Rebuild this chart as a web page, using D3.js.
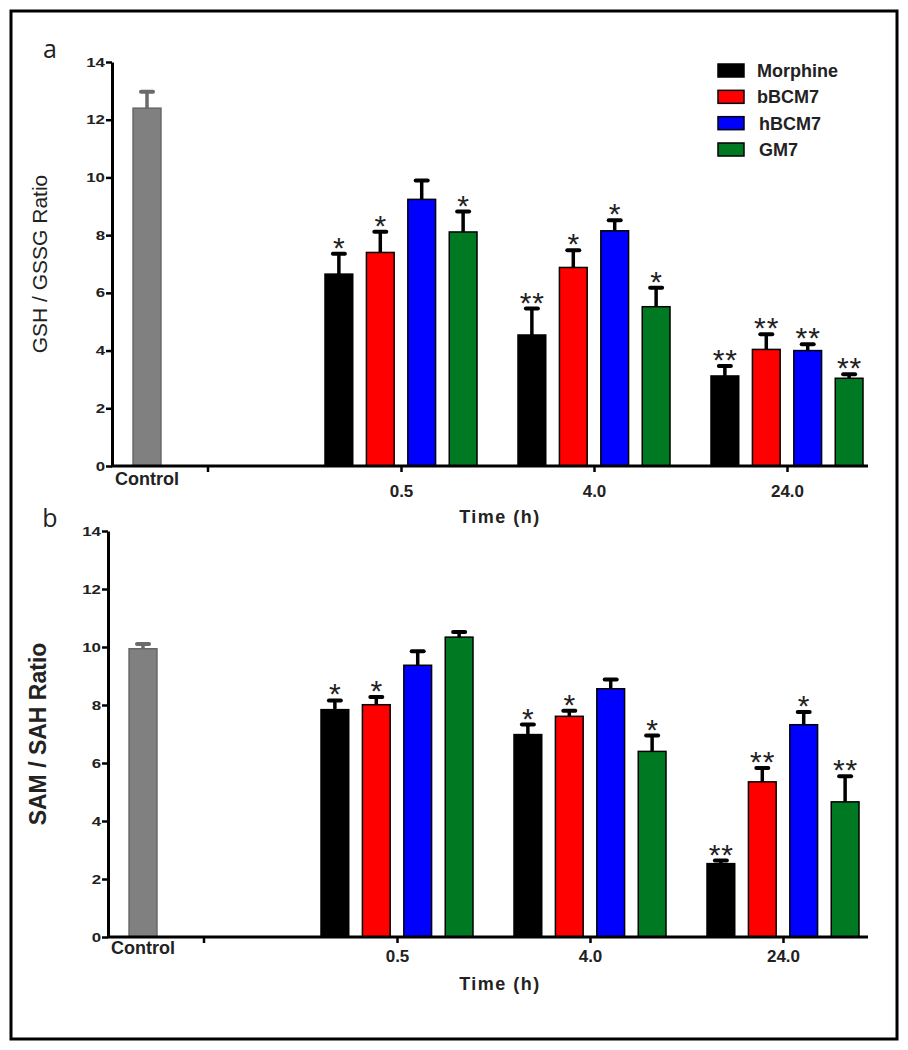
<!DOCTYPE html>
<html>
<head>
<meta charset="utf-8">
<script src="https://cdn.jsdelivr.net/npm/d3@7"></script>
<style>
  body { margin: 0; background: #fff; }
  svg { display: block; font-family: Arial, "Liberation Sans", sans-serif; }
</style>
</head>
<body>
<svg id="chart" width="908" height="1050"></svg>
<script>
// groups and series
const series = ["Morphine", "bBCM7", "hBCM7", "GM7"];
const colors = ["#000000", "#ff0000", "#0000ff", "#007a22"];
const times = ["0.5", "4.0", "24.0"];
const yTicks = [0, 2, 4, 6, 8, 10, 12, 14];

// panel a: GSH / GSSG (one row per series, one value per time)
const gshControl = 12.4, gshControlErr = 0.6;
const gshMean = [
    [6.65, 4.54, 3.12],
    [7.40, 6.88, 4.04],
    [9.24, 8.15, 4.00],
    [8.11, 5.52, 3.04]
];
const gshErr = [
    [0.74, 0.95, 0.38],
    [0.75, 0.63, 0.56],
    [0.69, 0.40, 0.25],
    [0.74, 0.69, 0.17]
];
const gshStars = [
    ["*", "**", "**"],
    ["*", "*", "**"],
    ["", "*", "**"],
    ["*", "*", "**"]
];

// panel b: SAM / SAH
const samControl = 9.94, samControlErr = 0.2;
const samMean = [
    [7.84, 6.98, 2.53],
    [8.01, 7.61, 5.35],
    [9.37, 8.56, 7.32],
    [10.34, 6.40, 4.66]
];
const samErr = [
    [0.35, 0.38, 0.14],
    [0.30, 0.23, 0.51],
    [0.52, 0.35, 0.47],
    [0.21, 0.58, 0.92]
];
const samStars = [
    ["*", "*", "**"],
    ["*", "*", "**"],
    ["", "", "*"],
    ["", "*", "**"]
];

const svg = d3.select("#chart");

// outer frame
svg.append("rect")
    .attr("x", 11).attr("y", 11)
    .attr("width", 886).attr("height", 1028)
    .attr("fill", "none")
    .attr("stroke", "#000")
    .attr("stroke-width", 3);

const panels = [
    {
        letter: "a", axisX: 112, top: 62, bottom: 466,
        title: "GSH / GSSG Ratio", titleWeight: "normal", titleSize: 21, titleX: 40,
        control: gshControl, controlErr: gshControlErr,
        mean: gshMean, err: gshErr, stars: gshStars,
        ctrlDy: 19, tickDy: 31, timeDy: 57
    },
    {
        letter: "b", axisX: 108, top: 531, bottom: 937,
        title: "SAM / SAH Ratio", titleWeight: "bold", titleSize: 23, titleX: 38,
        control: samControl, controlErr: samControlErr,
        mean: samMean, err: samErr, stars: samStars,
        ctrlDy: 17, tickDy: 25, timeDy: 53
    }
];

panels.forEach(drawPanel);
drawLegend();

function errorBar(g, cx, yTop, yErr, color) {
    g.append("line")
        .attr("x1", cx).attr("x2", cx)
        .attr("y1", yTop).attr("y2", yErr)
        .attr("stroke", color).attr("stroke-width", 3.5);
    g.append("line")
        .attr("x1", cx - 6).attr("x2", cx + 6)
        .attr("y1", yErr + 1).attr("y2", yErr + 1)
        .attr("stroke", color).attr("stroke-width", 4)
        .attr("stroke-linecap", "round");
}

function drawPanel(p) {
    const right = 868;
    const y = d3.scaleLinear().domain([0, 14]).range([p.bottom, p.top]);

    const groupX = d3.scalePoint()
        .domain(times)
        .range([p.axisX + 289, p.axisX + 675]);

    const inner = d3.scaleBand()
        .domain(series)
        .range([-76, 76])
        .paddingInner(0.33);

    const ctrlX = d3.scaleBand()
        .domain(["Control"])
        .range([p.axisX, p.axisX + 70])
        .padding(0.43);

    const g = svg.append("g");

    // panel letter
    g.append("text")
        .attr("x", 50)
        .attr("y", p.top - 4)
        .attr("text-anchor", "middle")
        .style("font-family", "'Open Sans', sans-serif")
        .style("font-size", "25px")
        .attr("fill", "#222")
        .text(p.letter);

    // control bar
    const cx = ctrlX("Control");
    g.append("rect")
        .attr("x", cx)
        .attr("y", y(p.control))
        .attr("width", ctrlX.bandwidth())
        .attr("height", y(0) - y(p.control))
        .attr("fill", "#808080")
        .attr("stroke", "#666")
        .attr("stroke-width", 1.5);
    errorBar(g, cx + ctrlX.bandwidth() / 2, y(p.control), y(p.control + p.controlErr), "#6a6a6a");

    // treatment bars
    series.forEach((s, si) => {
        times.forEach((t, ti) => {
            const v = p.mean[si][ti];
            const e = p.err[si][ti];
            const x0 = groupX(t) + inner(s);
            const bw = inner.bandwidth();
            g.append("rect")
                .attr("x", x0)
                .attr("y", y(v))
                .attr("width", bw)
                .attr("height", y(0) - y(v))
                .attr("fill", colors[si])
                .attr("stroke", "#000")
                .attr("stroke-width", 1.5);
            errorBar(g, x0 + bw / 2, y(v), y(v + e), "#000");
            const st = p.stars[si][ti];
            if (st) {
                g.append("text")
                    .attr("x", x0 + bw / 2 + (st.length > 1 ? 0.5 : 0))
                    .attr("y", y(v + e) + 5)
                    .attr("text-anchor", "middle")
                    .style("font-size", "30px")
                    .style("letter-spacing", st.length > 1 ? "1px" : "0px")
                    .attr("fill", "#222")
                    .text(st);
            }
        });
    });

    // y axis (labels are drawn wide, as in the source figure)
    const yAxis = g.append("g")
        .attr("transform", `translate(${p.axisX},0)`)
        .call(d3.axisLeft(y).tickValues(yTicks).tickSize(6).tickPadding(1).tickSizeOuter(0));
    yAxis.select(".domain").attr("stroke-width", 3);
    yAxis.selectAll(".tick line").attr("stroke-width", 2.5);
    yAxis.selectAll(".tick text")
        .attr("x", -7 / 1.35)
        .attr("transform", "scale(1.35,1)")
        .style("font-size", "12.5px")
        .style("font-weight", "bold")
        .style("font-family", "Arial, 'Liberation Sans', sans-serif")
        .attr("fill", "#222");

    // x axis line
    g.append("line")
        .attr("x1", p.axisX - 1).attr("x2", right)
        .attr("y1", y(0)).attr("y2", y(0))
        .attr("stroke", "#000").attr("stroke-width", 3);

    // break tick after the control column
    g.append("line")
        .attr("x1", p.axisX + 96).attr("x2", p.axisX + 96)
        .attr("y1", y(0)).attr("y2", y(0) + 6)
        .attr("stroke", "#000").attr("stroke-width", 2.5);

    const xAxis = g.append("g")
        .attr("transform", `translate(0,${y(0)})`)
        .call(d3.axisBottom(groupX).tickSize(6).tickSizeOuter(0));
    xAxis.select(".domain").remove();
    xAxis.selectAll(".tick line").attr("stroke-width", 2.5);
    xAxis.selectAll(".tick text")
        .attr("y", p.tickDy)
        .attr("dy", 0)
        .style("font-size", "17px")
        .style("font-weight", "bold")
        .style("font-family", "Arial, 'Liberation Sans', sans-serif")
        .attr("fill", "#222");

    g.append("text")
        .attr("x", cx + ctrlX.bandwidth() / 2)
        .attr("y", y(0) + p.ctrlDy)
        .attr("text-anchor", "middle")
        .style("font-size", "18px")
        .style("font-weight", "bold")
        .attr("fill", "#222")
        .text("Control");

    g.append("text")
        .attr("x", 500)
        .attr("y", y(0) + p.timeDy)
        .attr("text-anchor", "middle")
        .style("font-size", "18px")
        .style("font-weight", "bold")
        .style("letter-spacing", "1.5px")
        .attr("fill", "#222")
        .text("Time (h)");

    // y title
    g.append("text")
        .attr("transform", `translate(${p.titleX},${(p.top + p.bottom) / 2}) rotate(-90)`)
        .attr("text-anchor", "middle")
        .attr("dy", "0.35em")
        .style("font-size", p.titleSize + "px")
        .style("font-weight", p.titleWeight)
        .attr("fill", "#222")
        .text(p.title);
}

function drawLegend() {
    const ly = d3.scalePoint().domain(series).range([64, 143]);
    const lg = svg.append("g");
    series.forEach((s, i) => {
        lg.append("rect")
            .attr("x", 718)
            .attr("y", ly(s))
            .attr("width", 26)
            .attr("height", 13)
            .attr("fill", colors[i])
            .attr("stroke", "#000")
            .attr("stroke-width", 1.5);
        lg.append("text")
            .attr("x", 757 + (i > 1 ? 2 : 0))
            .attr("y", ly(s) + 13)
            .style("font-size", "18px")
            .style("font-weight", "bold")
            .attr("fill", "#222")
            .text(s);
    });
}
</script>
</body>
</html>
